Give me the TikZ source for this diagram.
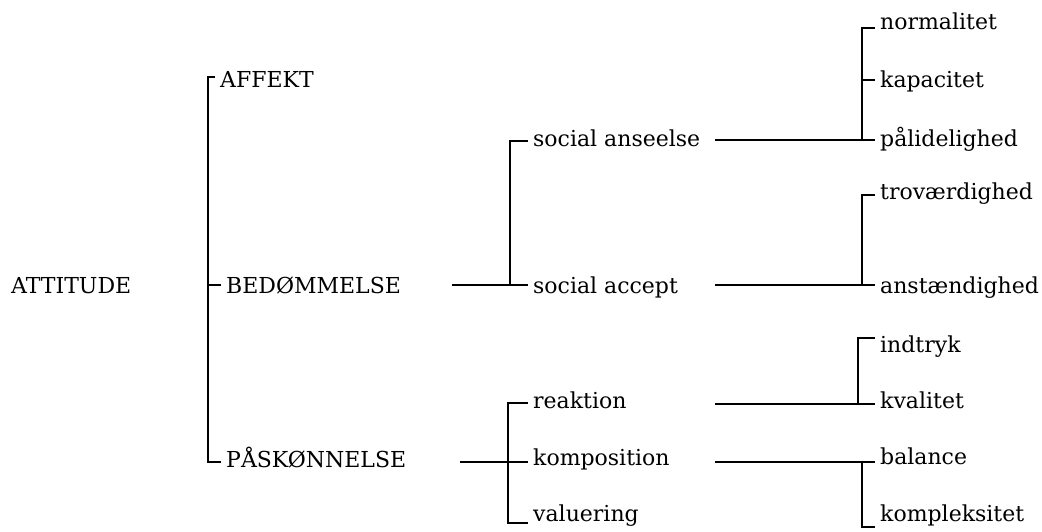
\documentclass[tikz,border=0pt]{standalone}
\usepackage{fontspec}
\setmainfont{DejaVu Serif}
\begin{document}
\begin{tikzpicture}[x=1pt,y=-1pt,
  lbl/.style={anchor=base west,inner xsep=5pt,inner ysep=0pt,font=\fontsize{22}{26}\selectfont},
  bar/.style={line width=1.2pt}]
\useasboundingbox (0,0) rectangle (1042,532);

% labels (placed by baseline)
\node[lbl] (att)    at (6,293)   {ATTITUDE};
\node[lbl] (affekt) at (215,88)  {AFFEKT};
\node[lbl] (bed)    at (221,293) {BEDØMMELSE};
\node[lbl] (pask)   at (221,467) {PÅSKØNNELSE};

\node[lbl] (sa)   at (528,147) {social anseelse};
\node[lbl] (sacc) at (528,293) {social accept};
\node[lbl] (reak) at (528,408) {reaktion};
\node[lbl] (komp) at (528,465) {komposition};
\node[lbl] (val)  at (528,521) {valuering};

\node[lbl] (norm)  at (875,30)  {normalitet};
\node[lbl] (kap)   at (875,88)  {kapacitet};
\node[lbl] (pal)   at (875,147) {pålidelighed};
\node[lbl] (trov)  at (875,200) {troværdighed};
\node[lbl] (anst)  at (875,293) {anstændighed};
\node[lbl] (indt)  at (875,352) {indtryk};
\node[lbl] (kval)  at (875,408) {kvalitet};
\node[lbl] (bal)   at (875,464) {balance};
\node[lbl] (kompl) at (875,521) {kompleksitet};

% bracket corners and junctions
\coordinate (r0) at (208,77);
\coordinate (r1) at (208,285);
\coordinate (r2) at (208,462);

\coordinate (b0) at (452,285);
\coordinate (b1) at (510,141);
\coordinate (b2) at (510,285);

\coordinate (p0) at (460,462);
\coordinate (p1) at (508,403);
\coordinate (p2) at (508,462);
\coordinate (p3) at (508,523);

\coordinate (s0) at (715,140);
\coordinate (s1) at (862,28);
\coordinate (s2) at (862,80);
\coordinate (s3) at (862,140);

\coordinate (a0) at (715,285);
\coordinate (a1) at (862,195);
\coordinate (a2) at (862,285);

\coordinate (k0) at (715,404);
\coordinate (k1) at (858,338);
\coordinate (k2) at (858,404);

\coordinate (m0) at (715,462);
\coordinate (m1) at (862,462);
\coordinate (m2) at (862,527);

% ATTITUDE bracket
\draw[bar] (affekt.west |- r0) -- (r0) -- (r2) -- (pask.west |- r2);
\draw[bar] (r1) -- (bed.west |- r1);

% BEDØMMELSE bracket
\draw[bar] (b0) -- (sacc.west |- b2);
\draw[bar] (sa.west |- b1) -- (b1) -- (b2);

% PÅSKØNNELSE bracket
\draw[bar] (p0) -- (komp.west |- p2);
\draw[bar] (reak.west |- p1) -- (p1) -- (p3) -- (val.west |- p3);

% social anseelse bracket
\draw[bar] (s0) -- (pal.west |- s3);
\draw[bar] (norm.west |- s1) -- (s1) -- (s3);
\draw[bar] (s2) -- (kap.west |- s2);

% social accept bracket
\draw[bar] (a0) -- (anst.west |- a2);
\draw[bar] (trov.west |- a1) -- (a1) -- (a2);

% reaktion bracket
\draw[bar] (k0) -- (kval.west |- k2);
\draw[bar] (indt.west |- k1) -- (k1) -- (k2);

% komposition bracket
\draw[bar] (m0) -- (bal.west |- m1);
\draw[bar] (m1) -- (m2) -- (kompl.west |- m2);
\end{tikzpicture}
\end{document}
